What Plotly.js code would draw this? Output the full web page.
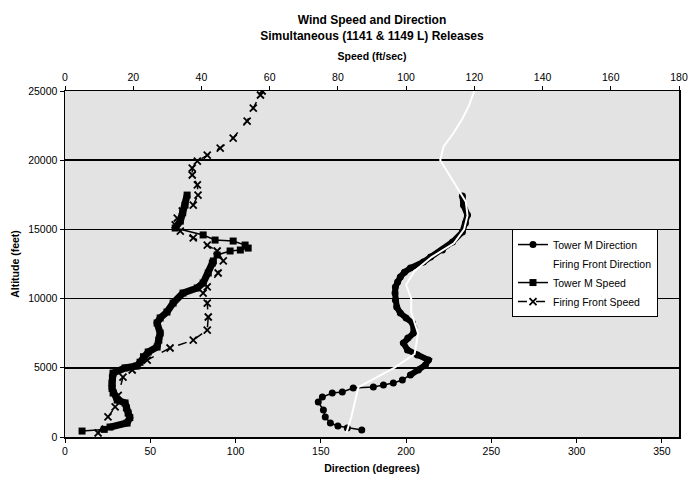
<!DOCTYPE html>
<html>
<head>
<meta charset="utf-8">
<script src="https://cdn.plot.ly/plotly-3.0.1.min.js"></script>
<style>html,body{margin:0;padding:0;background:#fff;}#chart{width:696px;height:483px;}</style>
</head>
<body>
<div id="chart"></div>
<script>
// ---- Data ----
// Tower M Direction (degrees) vs altitude (feet)
const towerDirAlt = [500, 650, 800, 1010, 1450, 1950, 2530, 2890, 3180, 3250, 3540, 3610, 3760, 3900, 4120, 4480, 4840, 5200, 5560, 5920, 6290, 6790, 7150, 7510, 7900, 8240, 8600, 8960, 9400, 9900, 10400, 10840, 11200, 11560, 11900, 12210, 12640, 13000, 13510, 14090, 14810, 15460, 16040, 16760, 17410];
const towerDir    = [174, 165.5, 160, 155.6, 152.6, 151.5, 148.5, 150.9, 156.7, 162.6, 169, 180.8, 186.7, 192.5, 197.8, 202.5, 207.2, 211.3, 213.1, 206.6, 200.8, 198.4, 201, 204.3, 204.5, 203.7, 200, 196.6, 194.5, 193.7, 193.5, 193.7, 195, 196.6, 199, 202.5, 210.1, 214.3, 221.3, 227.2, 233, 234.8, 236, 233.6, 233];

// Firing Front Direction (degrees) vs altitude (feet) - drawn as a white line
const ffDirAlt = [300, 1500, 3600, 5000, 6000, 7500, 9000, 10000, 11000, 12000, 13000, 14000, 15000, 16000, 17000, 18000, 19000, 20000, 21000, 22000, 23000, 24000, 25000];
const ffDir    = [165, 168, 172, 193, 205, 207, 203, 203, 200, 205, 215, 228, 234, 236, 235, 230, 225, 220, 222, 228, 233, 237, 240];

// Tower M Speed (ft/sec) vs altitude (feet)
const towerSpdAlt = [430, 550, 720, 1010, 1400, 1730, 2100, 2460, 2670, 3180, 3500, 3900, 4300, 4620, 4990, 5130, 5400, 5800, 6140, 6500, 7000, 7510, 8240, 8600, 9030, 9680, 10400, 10770, 11130, 11850, 12570, 12720, 13150, 13440, 13510, 13650, 13870, 14160, 14230, 14600, 15100, 15600, 16200, 16760, 17480];
const towerSpd    = [5.0, 11.5, 13.2, 18.2, 19.0, 18.5, 18.0, 17.6, 15.3, 14.1, 13.8, 13.8, 13.9, 14.1, 17.6, 21.0, 22.0, 23.0, 24.4, 27.0, 27.5, 27.9, 27.0, 27.9, 29.9, 31.7, 34.6, 38.8, 40.5, 42.0, 43.2, 43.5, 44.6, 48.4, 51.4, 53.7, 52.8, 49.3, 44.0, 40.5, 32.3, 33.8, 34.5, 35.2, 35.8];

// Firing Front Speed (ft/sec) vs altitude (feet)
const ffSpdAlt = [290, 1450, 2170, 3000, 4330, 4840, 5560, 6430, 7000, 7730, 8670, 9680, 10400, 10840, 11850, 12720, 13440, 13870, 14380, 14880, 15320, 15820, 16330, 16760, 17480, 18210, 18930, 19430, 19940, 20370, 20880, 21600, 22830, 23770, 24710, 25000];
const ffSpd    = [9.7, 12.6, 14.7, 15.6, 17.0, 19.7, 24.1, 30.8, 37.6, 41.7, 42.0, 41.7, 40.5, 41.7, 44.9, 46.4, 44.6, 41.7, 37.6, 33.8, 32.3, 32.9, 34.4, 37.6, 39.0, 38.8, 37.3, 37.3, 38.8, 41.7, 45.5, 49.3, 53.4, 55.2, 57.3, 57.8];

// Axis ticks
const dirTicks = [0, 50, 100, 150, 200, 250, 300, 350];
const spdTicks = [0, 20, 40, 60, 80, 100, 120, 140, 160, 180];
const altTicks = [0, 5000, 10000, 15000, 20000, 25000];

// helper: subset of a series between two altitudes (for the thick, densely sampled parts)
function sub(alts, vals, lo, hi) {
  const a = [], v = [];
  for (let i = 0; i < alts.length; i++) {
    if (alts[i] >= lo && alts[i] <= hi) { a.push(alts[i]); v.push(vals[i]); }
  }
  return {a: a, v: v};
}

const FONT = 'Liberation Sans, Arial, sans-serif';
const traces = [];

// Tower M Direction
traces.push({x: towerDir, y: towerDirAlt, xaxis: 'x', yaxis: 'y', mode: 'lines+markers', name: 'Tower M Direction',
  line: {color: '#000', width: 1.5}, marker: {symbol: 'circle', size: 7, color: '#000'}});
const tdThick = sub(towerDirAlt, towerDir, 4480, 17410);
traces.push({x: tdThick.v, y: tdThick.a, xaxis: 'x', yaxis: 'y', mode: 'lines', showlegend: false, hoverinfo: 'skip',
  line: {color: '#000', width: 6}});

// Firing Front Direction (white)
traces.push({x: ffDir, y: ffDirAlt, xaxis: 'x', yaxis: 'y', mode: 'lines', name: 'Firing Front Direction',
  line: {color: '#ffffff', width: 2}});

// Tower M Speed
traces.push({x: towerSpd, y: towerSpdAlt, xaxis: 'x2', yaxis: 'y', mode: 'lines+markers', name: 'Tower M Speed',
  line: {color: '#000', width: 1.5}, marker: {symbol: 'square', size: 7, color: '#000'}});
const tsThick1 = sub(towerSpdAlt, towerSpd, 720, 12720);
traces.push({x: tsThick1.v, y: tsThick1.a, xaxis: 'x2', yaxis: 'y', mode: 'lines', showlegend: false, hoverinfo: 'skip',
  line: {color: '#000', width: 7}});
const tsThick2 = sub(towerSpdAlt, towerSpd, 15100, 17480);
traces.push({x: tsThick2.v, y: tsThick2.a, xaxis: 'x2', yaxis: 'y', mode: 'lines', showlegend: false, hoverinfo: 'skip',
  line: {color: '#000', width: 7}});

// Firing Front Speed
traces.push({x: ffSpd, y: ffSpdAlt, xaxis: 'x2', yaxis: 'y', mode: 'lines+markers', name: 'Firing Front Speed',
  line: {color: '#000', width: 1.5, dash: 'dash'}, marker: {symbol: 'x-thin', size: 7, color: '#000', line: {color: '#000', width: 1.8}}});

const layout = {
  width: 696, height: 483,
  margin: {l: 65, r: 17, t: 91, b: 46, pad: 0},
  paper_bgcolor: '#ffffff',
  plot_bgcolor: '#e3e3e3',
  font: {family: FONT, size: 10.5, color: '#000'},
  showlegend: true,
  title: {text: '<b>Wind Speed and Direction</b><br><b>Simultaneous (1141 &amp; 1149 L) Releases</b>',
    font: {family: FONT, size: 12, color: '#000'}, xref: 'paper', x: 0.5, xanchor: 'center',
    yref: 'container', y: 0.95, yanchor: 'top'},
  xaxis: {range: [0, 360], tickvals: dirTicks, ticktext: dirTicks.map(String), showgrid: false, zeroline: false,
    showline: true, linecolor: '#000', linewidth: 1.5, ticks: 'outside', ticklen: 4, tickcolor: '#000',
    tickfont: {family: FONT, size: 10.5}, anchor: 'y', side: 'bottom',
    title: {text: '<b>Direction (degrees)</b>', font: {family: FONT, size: 10.5}, standoff: 8}},
  xaxis2: {range: [0, 180], tickvals: spdTicks, ticktext: spdTicks.map(String), overlaying: 'x', side: 'top', anchor: 'y',
    showgrid: false, zeroline: false, showline: true, linecolor: '#000', linewidth: 1.5, ticks: 'outside', ticklen: 4, tickcolor: '#000',
    tickfont: {family: FONT, size: 10.5},
    title: {text: '<b>Speed (ft/sec)</b>', font: {family: FONT, size: 10.5}, standoff: 8}},
  yaxis: {range: [0, 25000], tickvals: altTicks, ticktext: altTicks.map(String), showgrid: true, gridcolor: '#000', gridwidth: 1.5,
    zeroline: false, showline: true, mirror: true, linecolor: '#000', linewidth: 1.5, ticks: 'outside', ticklen: 4, tickcolor: '#000',
    tickfont: {family: FONT, size: 10.5},
    title: {text: '<b>Altitude (feet)</b>', font: {family: FONT, size: 10.5}, standoff: 6}},
  legend: {x: 0.728, y: 0.601, xanchor: 'left', yanchor: 'top', bgcolor: '#ffffff', bordercolor: '#000', borderwidth: 1,
    font: {family: FONT, size: 10.5}, tracegroupgap: 0, itemwidth: 30}
};

Plotly.newPlot('chart', traces, layout, {displayModeBar: false, staticPlot: true});
</script>
</body>
</html>
